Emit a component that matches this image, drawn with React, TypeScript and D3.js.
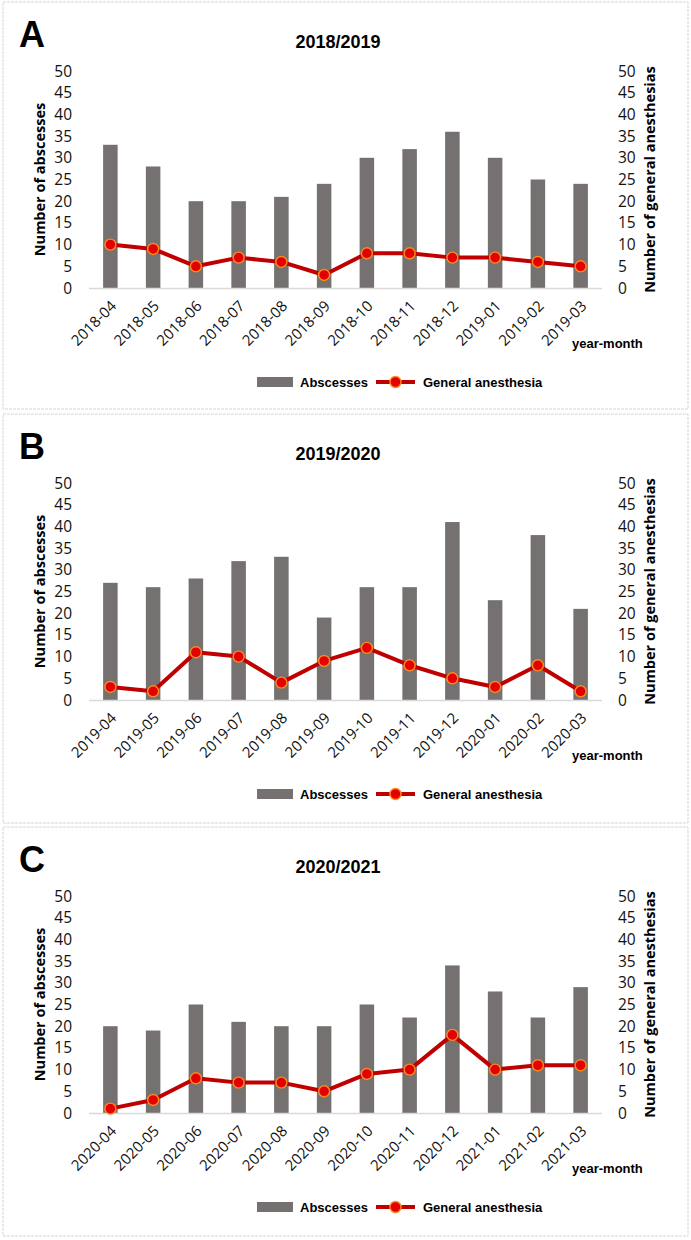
import React from "react";
import * as d3 from "d3";

const labelsA = ["2018-04","2018-05","2018-06","2018-07","2018-08","2018-09","2018-10","2018-11","2018-12","2019-01","2019-02","2019-03"];
const abscessesA = [33, 28, 20, 20, 21, 24, 30, 32, 36, 30, 25, 24];
const anesthesiaA = [10, 9, 5, 7, 6, 3, 8, 8, 7, 7, 6, 5];

const labelsB = ["2019-04","2019-05","2019-06","2019-07","2019-08","2019-09","2019-10","2019-11","2019-12","2020-01","2020-02","2020-03"];
const abscessesB = [27, 26, 28, 32, 33, 19, 26, 26, 41, 23, 38, 21];
const anesthesiaB = [3, 2, 11, 10, 4, 9, 12, 8, 5, 3, 8, 2];

const labelsC = ["2020-04","2020-05","2020-06","2020-07","2020-08","2020-09","2020-10","2020-11","2020-12","2021-01","2021-02","2021-03"];
const abscessesC = [20, 19, 25, 21, 20, 20, 25, 22, 34, 28, 22, 29];
const anesthesiaC = [1, 3, 8, 7, 7, 5, 9, 10, 18, 10, 11, 11];

const yTicks = [0, 5, 10, 15, 20, 25, 30, 35, 40, 45, 50];
const panelLetters = ["A", "B", "C"];
const panelTitles = ["2018/2019", "2019/2020", "2020/2021"];

const panels = [
  { letter: panelLetters[0], title: panelTitles[0], labels: labelsA, bars: abscessesA, line: anesthesiaA, off: 0, boxY: 2, boxH: 407 },
  { letter: panelLetters[1], title: panelTitles[1], labels: labelsB, bars: abscessesB, line: anesthesiaB, off: 412, boxY: 414, boxH: 409 },
  { letter: panelLetters[2], title: panelTitles[2], labels: labelsC, bars: abscessesC, line: anesthesiaC, off: 825, boxY: 827, boxH: 409 },
];

const BAR = "#767171";
const LINE = "#C00000";
const MFILL = "#E30000";
const MSTROKE = "#FF8A1C";
const TICKFONT = "'Open Sans', sans-serif";
const BOLDFONT = "'Liberation Sans', Arial, sans-serif";
const INK = "#111";

function Panel({ p }: { p: typeof panels[number] }) {
  const x = d3.scaleBand<string>().domain(p.labels).range([89, 602]).paddingInner(0.66).paddingOuter(0.33);
  const y = d3.scaleLinear().domain([0, 50]).range([288, 71]);
  const cx = (l: string) => (x(l) as number) + x.bandwidth() / 2;
  const pts: [number, number][] = p.labels.map((l, i) => [cx(l), y(p.line[i])]);
  const lineGen = d3.line();
  return (
    <g transform={`translate(0,${p.off})`}>
      <rect x={3} y={p.boxY - p.off} width={685} height={p.boxH} fill="none" stroke="#d4d4d4" strokeWidth={1} strokeDasharray="3,1" />
      <text x={19} y={47} fontFamily={BOLDFONT} fontWeight="bold" fontSize={36} fill="#000">{p.letter}</text>
      <text x={338} y={48} textAnchor="middle" fontFamily={BOLDFONT} fontWeight="bold" fontSize={18} fill="#000">{p.title}</text>
      {yTicks.map((t) => (
        <g key={t}>
          <text x={72} y={y(t)} dy="0.36em" textAnchor="end" fontFamily={TICKFONT} fontSize={15.5} fill={INK}>{t}</text>
          <text x={618} y={y(t)} dy="0.36em" textAnchor="start" fontFamily={TICKFONT} fontSize={15.5} fill={INK}>{t}</text>
        </g>
      ))}
      <text transform={`translate(40,${(y(0) + y(50)) / 2}) rotate(-90)`} dy="0.35em" textAnchor="middle" fontFamily={TICKFONT} fontWeight={700} fontSize={14.5} fill="#000">Number of abscesses</text>
      <text transform={`translate(650,${(y(0) + y(50)) / 2}) rotate(-90)`} dy="0.35em" textAnchor="middle" fontFamily={TICKFONT} fontWeight={700} fontSize={14.5} fill="#000">Number of general anesthesias</text>
      {p.labels.map((l, i) => (
        <rect key={l} x={x(l)} y={y(p.bars[i])} width={x.bandwidth()} height={y(0) - y(p.bars[i])} fill={BAR} />
      ))}
      <line x1={89} x2={602} y1={y(0) + 0.5} y2={y(0) + 0.5} stroke="#d9d9d9" strokeWidth={1.5} />
      <path d={lineGen(pts) || ""} fill="none" stroke={LINE} strokeWidth={4} strokeLinejoin="round" />
      {pts.map((pt, i) => (
        <circle key={i} cx={pt[0]} cy={pt[1]} r={5.5} fill={MFILL} stroke={MSTROKE} strokeWidth={1.4} />
      ))}
      {p.labels.map((l) => (
        <text key={l} transform={`translate(${cx(l) + 7},${y(0) + 19}) rotate(-45)`} textAnchor="end" fontFamily={TICKFONT} fontSize={15} fill={INK}>{l}</text>
      ))}
      <text x={572} y={348} fontFamily={BOLDFONT} fontWeight="bold" fontSize={13} fill="#000">year-month</text>
      <rect x={257} y={377} width={36} height={10} fill={BAR} />
      <text x={300} y={387} fontFamily={BOLDFONT} fontWeight="bold" fontSize={13} fill="#000">Abscesses</text>
      <line x1={376} x2={415} y1={382} y2={382} stroke={LINE} strokeWidth={4} />
      <circle cx={395.5} cy={382} r={5.5} fill={MFILL} stroke={MSTROKE} strokeWidth={1.4} />
      <text x={423} y={387} fontFamily={BOLDFONT} fontWeight="bold" fontSize={13} fill="#000">General anesthesia</text>
    </g>
  );
}

export default function App() {
  return (
    <svg width={691} height={1240} style={{ position: "absolute", left: 0, top: 0, background: "#fff" }}>
      <rect x={0} y={0} width={691} height={1240} fill="#fff" />
      {panels.map((p) => <Panel key={p.letter} p={p} />)}
    </svg>
  );
}
